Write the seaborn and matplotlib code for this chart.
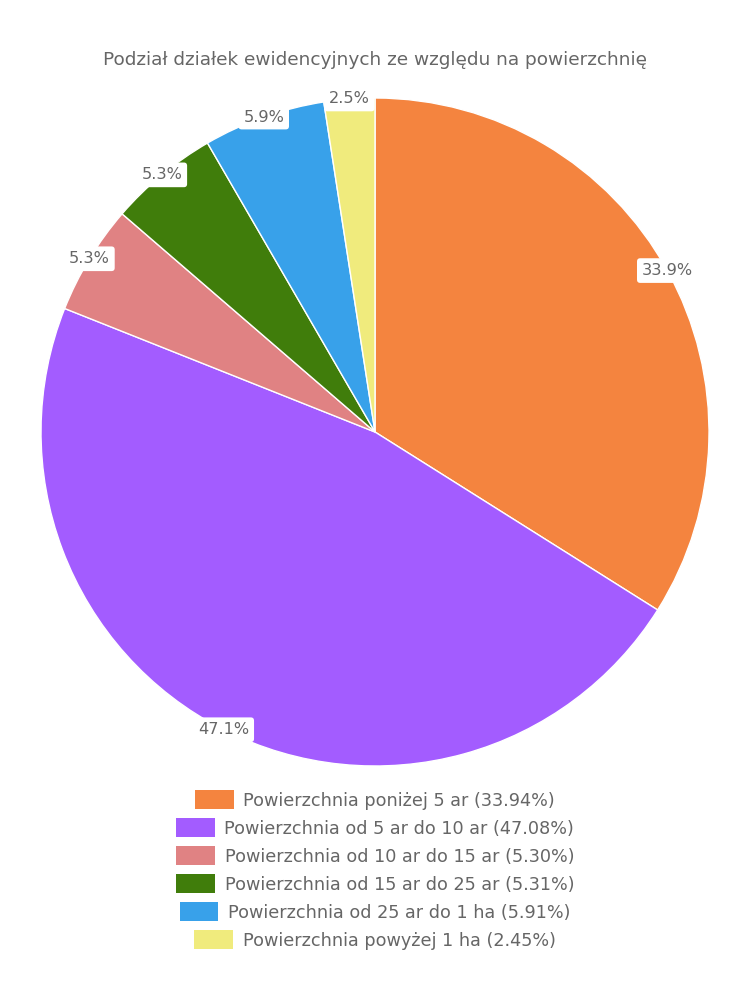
import matplotlib
matplotlib.use("Agg")
import matplotlib.pyplot as plt
import seaborn as sns

categories = [
    "Powierzchnia poniżej 5 ar",
    "Powierzchnia od 5 ar do 10 ar",
    "Powierzchnia od 10 ar do 15 ar",
    "Powierzchnia od 15 ar do 25 ar",
    "Powierzchnia od 25 ar do 1 ha",
    "Powierzchnia powyżej 1 ha",
]
values = [33.94, 47.08, 5.30, 5.31, 5.91, 2.45]
colors = ["#F4843F", "#A35CFF", "#E08283", "#407D0B", "#38A1EA", "#F0EB7D"]
title = "Podział działek ewidencyjnych ze względu na powierzchnię"

sns.set_theme(style="white")
plt.rcParams["font.family"] = ["DejaVu Sans"]
palette = sns.color_palette(colors)
text_color = "#666666"

fig = plt.figure(figsize=(7.5, 10), dpi=100)
ax = fig.add_axes([41 / 750, 0.234, 668 / 750, 0.668])

wedges, texts, autotexts = ax.pie(
    values,
    colors=palette,
    startangle=90,
    counterclock=False,
    autopct=lambda p: f"{p:.1f}%",
    pctdistance=1.0,
    wedgeprops=dict(edgecolor="white", linewidth=1),
    textprops=dict(color=text_color, fontsize=11.6),
)
for t in autotexts:
    t.set_bbox(dict(boxstyle="round,pad=0.3,rounding_size=0.2", facecolor="white", edgecolor="none"))
ax.set_aspect("equal")
ax.set_xlim(-1, 1)
ax.set_ylim(-1, 1)
ax.axis("off")

fig.text(0.5, 0.94, title, ha="center", va="center", color=text_color, fontsize=13.3)

row_y = [800, 828, 856, 884, 912, 940]
for w, cat, v, y in zip(wedges, categories, values, row_y):
    leg = fig.legend(
        [w], [f"{cat} ({v:.2f}%)"],
        loc="center", bbox_to_anchor=(0.5, 1 - y / 1000),
        frameon=False, fontsize=12.7,
        handlelength=2.2, handleheight=1.25, handletextpad=0.55,
        borderpad=0, borderaxespad=0,
    )
    for t in leg.get_texts():
        t.set_color(text_color)
    for h in leg.legend_handles:
        h.set_edgecolor("none")

fig.savefig("out.png", dpi=100)
